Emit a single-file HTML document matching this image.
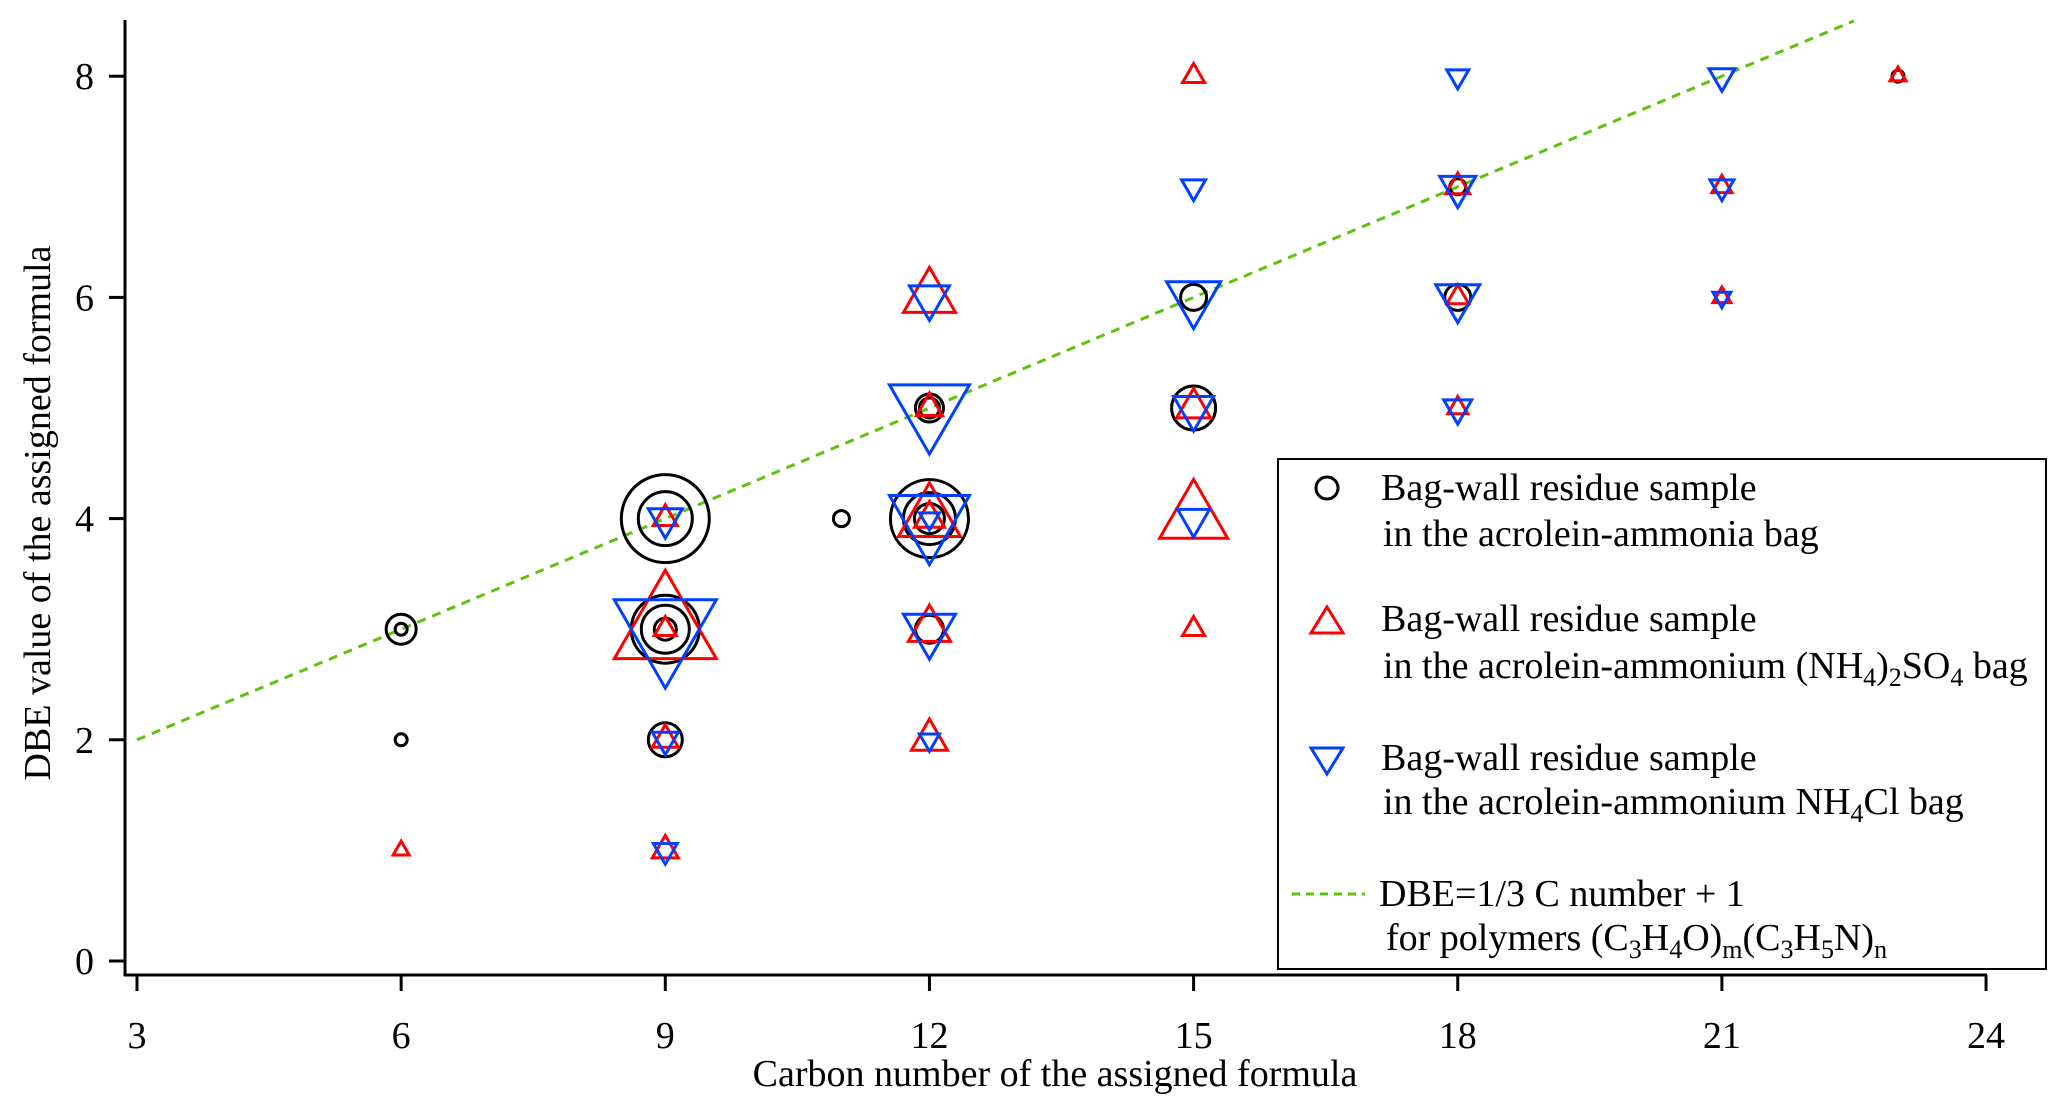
<!DOCTYPE html>
<html><head><meta charset="utf-8">
<style>
html,body{margin:0;padding:0;background:#fff;}
svg{display:block;font-family:"Liberation Serif",serif;}
</style></head>
<body>
<svg id="chart" width="2067" height="1114" viewBox="0 0 2067 1114" xmlns="http://www.w3.org/2000/svg">
<g id="marks"></g>
<g id="axes"></g>
<g id="legend">
  <rect x="1278" y="459" width="768" height="510" fill="#fff" stroke="#000" stroke-width="2"/>
  <g>
    <circle cx="1327" cy="488" r="11" fill="none" stroke="#000" stroke-width="3"/>
    <text x="1381" y="500" font-size="38">Bag-wall residue sample</text>
    <text x="1383" y="546" font-size="38">in the acrolein-ammonia bag</text>
  </g>
  <g>
    <polygon points="1327,607 1343,633 1311,633" fill="none" stroke="#f00" stroke-width="3"/>
    <text x="1381" y="631" font-size="38">Bag-wall residue sample</text>
    <text x="1383" y="678" font-size="38">in the acrolein-ammonium (NH<tspan font-size="26" dy="8">4</tspan><tspan dy="-8">)</tspan><tspan font-size="26" dy="8">2</tspan><tspan dy="-8">SO</tspan><tspan font-size="26" dy="8">4</tspan><tspan dy="-8"> bag</tspan></text>
  </g>
  <g>
    <polygon points="1311,748 1343,748 1327,774" fill="none" stroke="#0040ff" stroke-width="3"/>
    <text x="1381" y="770" font-size="38">Bag-wall residue sample</text>
    <text x="1383" y="814" font-size="38">in the acrolein-ammonium NH<tspan font-size="26" dy="8">4</tspan><tspan dy="-8">Cl bag</tspan></text>
  </g>
  <g>
    <line x1="1292" y1="894" x2="1365" y2="894" stroke="#5ec40a" stroke-width="3" stroke-dasharray="8,6"/>
    <text x="1379" y="906" font-size="38">DBE=1/3 C  number + 1</text>
    <text x="1386" y="950" font-size="38">for polymers (C<tspan font-size="26" dy="8">3</tspan><tspan dy="-8">H</tspan><tspan font-size="26" dy="8">4</tspan><tspan dy="-8">O)</tspan><tspan font-size="26" dy="8">m</tspan><tspan dy="-8">(C</tspan><tspan font-size="26" dy="8">3</tspan><tspan dy="-8">H</tspan><tspan font-size="26" dy="8">5</tspan><tspan dy="-8">N)</tspan><tspan font-size="26" dy="8">n</tspan></text>
  </g>
</g>
</svg>
<script>
// data: [carbon, DBE, marker size px]
const circleC = [6,6,6,9,9,9,9,9,9,11,12,12,12,12,12,12,15,15,18,18,23];
const circleD = [3,3,2,4,4,3,3,3,2,4,4,4,4,5,5,3,6,5,7,6,8];
const circleS = [15,6,6,44,27,34,24,11,17,8,39,26,15,14,10,14,13,22,8,13,6];
const upC = [6,9,9,9,9,9,12,12,12,12,12,12,15,15,15,15,18,18,18,21,21,23];
const upD = [1,4,3,3,2,1,6,5,4,4,3,2,8,5,4,3,7,6,5,7,6,8];
const upS = [8,12,51,11,13,13,26,13,31,15,21,18,11,17,34,11,12,11,10,10,9,8];
const downC = [9,9,9,9,12,12,12,12,12,12,15,15,15,15,18,18,18,18,21,21,21];
const downD = [4,3,2,1,6,5,4,4,3,2,7,6,5,4,8,7,6,5,8,7,6];
const downS = [17,51,13,12,20,40,40,10,26,10,12,27,20,16,11,18,22,14,13,12,9];
const xTicks = [3,6,9,12,15,18,21,24];
const yTicks = [0,2,4,6,8];

const NS = "http://www.w3.org/2000/svg";
const X = c => 137 + (c - 3) * 88.05;
const Y = d => 961 - d * 110.6;
const marks = document.getElementById('marks');
const axes = document.getElementById('axes');
function mk(tag, attrs, parent) {
  const e = document.createElementNS(NS, tag);
  for (const k in attrs) e.setAttribute(k, attrs[k]);
  parent.appendChild(e);
  return e;
}
const ln = mk('line', {x1: X(3), y1: Y(2), x2: X(22.5), y2: Y(22.5 / 3 + 1), stroke: '#5ec40a', 'stroke-width': 3, 'stroke-dasharray': '9,7'}, marks);



circleC.forEach((c, i) => {
  const e = mk('circle', {cx: X(c), cy: Y(circleD[i]), r: circleS[i], fill: 'none', stroke: '#000', 'stroke-width': 3}, marks);
  
  
});
upC.forEach((c, i) => {
  const x = X(c), y = Y(upD[i]), w = upS[i], h = w * 1.732;
  const e = mk('polygon', {points: `${x},${y - h * 2 / 3} ${x + w},${y + h / 3} ${x - w},${y + h / 3}`, fill: 'none', stroke: '#f00', 'stroke-width': 3}, marks);
  
  
});
downC.forEach((c, i) => {
  const x = X(c), y = Y(downD[i]), w = downS[i], h = w * 1.732;
  const e = mk('polygon', {points: `${x - w},${y - h / 3} ${x + w},${y - h / 3} ${x},${y + h * 2 / 3}`, fill: 'none', stroke: '#0040ff', 'stroke-width': 3}, marks);
  
  
});

const ya = mk('line', {x1: 125, y1: 20, x2: 125, y2: 976, stroke: '#000', 'stroke-width': 3}, axes);


const xa = mk('line', {x1: 124, y1: 975, x2: 1987, y2: 975, stroke: '#000', 'stroke-width': 3}, axes);


xTicks.forEach(t => {
  const tk = mk('line', {x1: X(t), y1: 975, x2: X(t), y2: 991, stroke: '#000', 'stroke-width': 3}, axes);
  
  
  const tl = mk('text', {x: X(t), y: 1048, 'font-size': 38, 'text-anchor': 'middle'}, axes);
  tl.textContent = t;
  
  
});
yTicks.forEach(t => {
  const tk = mk('line', {x1: 109, y1: Y(t), x2: 125, y2: Y(t), stroke: '#000', 'stroke-width': 3}, axes);
  
  
  const tl = mk('text', {x: 94, y: Y(t) + 13, 'font-size': 38, 'text-anchor': 'end'}, axes);
  tl.textContent = t;
  
  
});
const xt = mk('text', {x: 1055, y: 1086, 'font-size': 38, 'text-anchor': 'middle'}, axes);
xt.textContent = 'Carbon number of the assigned formula';


const yt = mk('text', {x: 0, y: 0, 'font-size': 38, 'text-anchor': 'middle', transform: 'translate(50,513) rotate(-90)'}, axes);
yt.textContent = 'DBE value of the assigned formula';


</script>
</body></html>
